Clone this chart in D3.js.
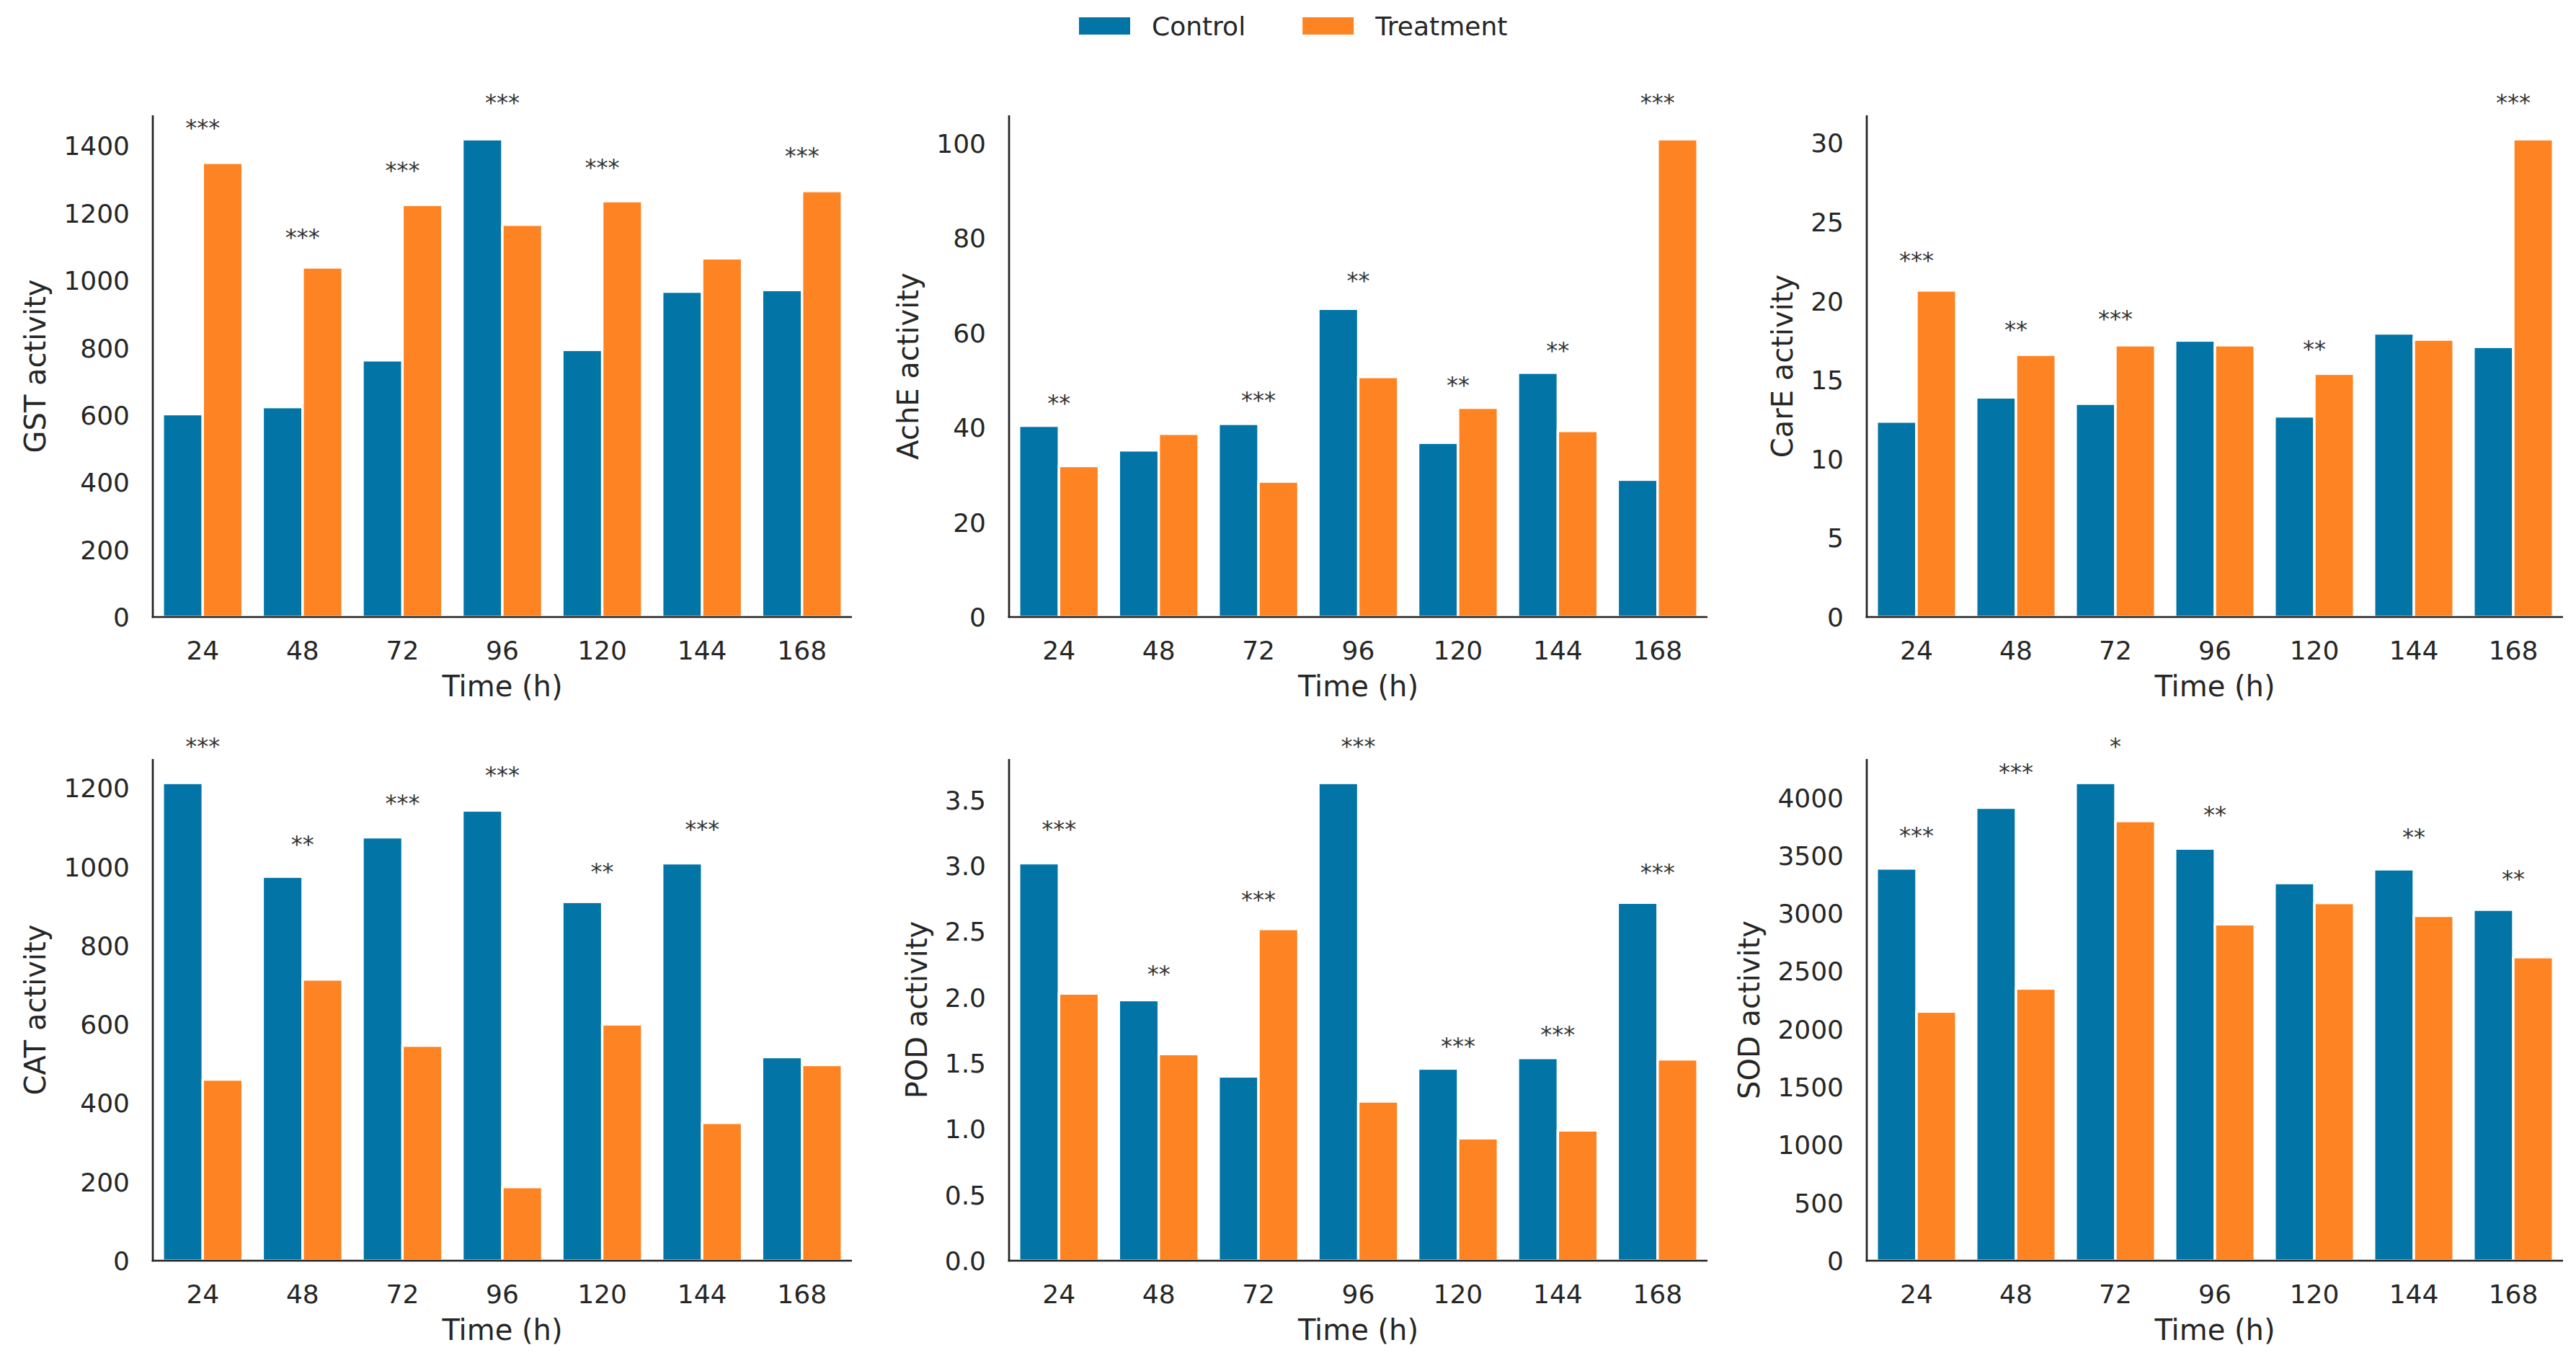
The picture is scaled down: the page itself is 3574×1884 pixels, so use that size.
<!DOCTYPE html>
<html>
<head>
<meta charset="utf-8">
<script src="https://cdn.jsdelivr.net/npm/d3@7"></script>
<style>
  body { margin: 0; background: #fff; }
  text { font-family: "DejaVu Sans", sans-serif; fill: #262626; }
</style>
</head>
<body>
<script>
const times = ["24", "48", "72", "96", "120", "144", "168"];
const seriesNames = ["Control", "Treatment"];
const colors = ["#0274a6", "#fe8322"];

const gstControl   = [603, 624, 763, 1420, 794, 967, 972];
const gstTreatment = [1350, 1039, 1225, 1166, 1236, 1066, 1266];
const gstSig  = ["***", "***", "***", "***", "***", "", "***"];
const gstSigY = [1469, 1144, 1344, 1545, 1352, null, 1385];
const gstTicks = [0, 200, 400, 600, 800, 1000, 1200, 1400];

const acheControl   = [40.4, 35.2, 40.8, 65.1, 36.8, 51.6, 29.0];
const acheTreatment = [31.9, 38.7, 28.6, 50.7, 44.2, 39.3, 100.9];
const acheSig  = ["**", "", "***", "**", "**", "**", "***"];
const acheSigY = [46.2, null, 46.8, 72.1, 50.0, 57.3, 109.8];
const acheTicks = [0, 20, 40, 60, 80, 100];

const careControl   = [12.37, 13.9, 13.5, 17.5, 12.7, 17.95, 17.1];
const careTreatment = [20.67, 16.6, 17.2, 17.2, 15.4, 17.56, 30.24];
const careSig  = ["***", "**", "***", "", "**", "", "***"];
const careSigY = [22.9, 18.5, 19.2, null, 17.3, null, 32.9];
const careTicks = [0, 5, 10, 15, 20, 25, 30];

const catControl   = [1213, 975, 1075, 1143, 911, 1009, 517];
const catTreatment = [460, 714, 546, 187, 600, 350, 497];
const catSig  = ["***", "**", "***", "***", "**", "***", ""];
const catSigY = [1320, 1070, 1175, 1246, 1001, 1109, null];
const catTicks = [0, 200, 400, 600, 800, 1000, 1200];

const podControl   = [3.02, 1.98, 1.40, 3.63, 1.46, 1.54, 2.72];
const podTreatment = [2.03, 1.57, 2.52, 1.21, 0.93, 0.99, 1.53];
const podSig  = ["***", "**", "***", "***", "***", "***", "***"];
const podSigY = [3.32, 2.22, 2.78, 3.95, 1.67, 1.76, 2.99];
const podTicks = [0, 0.5, 1.0, 1.5, 2.0, 2.5, 3.0, 3.5];

const sodControl   = [3388, 3913, 4127, 3560, 3262, 3381, 3032];
const sodTreatment = [2152, 2351, 3798, 2906, 3090, 2979, 2622];
const sodSig  = ["***", "***", "*", "**", "", "**", "**"];
const sodSigY = [3714, 4265, 4491, 3897, null, 3706, 3342];
const sodTicks = [0, 500, 1000, 1500, 2000, 2500, 3000, 3500, 4000];

const width = 3574, height = 1884;
const colLeft = [212, 1400, 2590], colRight = [1182, 2369, 3556];
const rowTop = [160, 1053], rowBottom = [856, 1749];

const svg = d3.select("body").append("svg")
    .attr("width", width)
    .attr("height", height);

svg.append("rect").attr("width", width).attr("height", height).attr("fill", "#fff");

function drawPanel(col, row, label, control, treatment, sig, sigY, ticks, fmt) {
    const left = colLeft[col], right = colRight[col];
    const top = rowTop[row], bottom = rowBottom[row];
    const g = svg.append("g");

    const x = d3.scaleBand().domain(times).range([left, right]).padding(0);
    const yMax = d3.max(control.concat(treatment)) * 1.05;
    const y = d3.scaleLinear().domain([0, yMax]).range([bottom, top]);
    const bw = x.bandwidth() * 0.4;

    [control, treatment].forEach(function(vals, s) {
        g.selectAll(".bar" + s)
            .data(vals)
            .enter()
            .append("rect")
            .attr("x", function(d, i) { return x(times[i]) + x.bandwidth() / 2 - bw + s * bw; })
            .attr("y", function(d) { return y(d); })
            .attr("width", bw)
            .attr("height", function(d) { return y(0) - y(d); })
            .attr("fill", colors[s])
            .attr("stroke", "#fff")
            .attr("stroke-width", 3.4);
    });

    // significance stars
    sig.forEach(function(s, i) {
        if (!s) return;
        g.append("text")
            .attr("x", x(times[i]) + x.bandwidth() / 2)
            .attr("y", y(sigY[i]) + 32 * 0.56)
            .attr("text-anchor", "middle")
            .style("font-size", "32px")
            .style("fill", "#333")
            .text(s);
    });

    // spines
    g.append("line")
        .attr("x1", left).attr("x2", left)
        .attr("y1", top).attr("y2", bottom + 1.35)
        .attr("stroke", "#222").attr("stroke-width", 2.7);
    g.append("line")
        .attr("x1", left - 1.35).attr("x2", right)
        .attr("y1", bottom).attr("y2", bottom)
        .attr("stroke", "#222").attr("stroke-width", 2.7);

    // x tick labels
    g.selectAll(".xt")
        .data(times)
        .enter()
        .append("text")
        .attr("x", function(d) { return x(d) + x.bandwidth() / 2; })
        .attr("y", bottom + 59)
        .attr("text-anchor", "middle")
        .style("font-size", "36px")
        .text(function(d) { return d; });

    // y tick labels
    const yt = g.append("g");
    yt.selectAll("text")
        .data(ticks)
        .enter()
        .append("text")
        .attr("x", left - 32)
        .attr("y", function(d) { return y(d) + 13; })
        .attr("text-anchor", "end")
        .style("font-size", "36px")
        .text(function(d) { return fmt ? d3.format(fmt)(d) : d; });

    const tickLeft = yt.node().getBBox().x;

    g.append("text")
        .attr("transform", "translate(" + (tickLeft - 25) + "," + ((top + bottom) / 2) + ") rotate(-90)")
        .attr("text-anchor", "middle")
        .style("font-size", "40px")
        .text(label);

    g.append("text")
        .attr("x", (left + right) / 2)
        .attr("y", bottom + 110)
        .attr("text-anchor", "middle")
        .style("font-size", "40px")
        .text("Time (h)");
}

drawPanel(0, 0, "GST activity", gstControl, gstTreatment, gstSig, gstSigY, gstTicks);
drawPanel(1, 0, "AchE activity", acheControl, acheTreatment, acheSig, acheSigY, acheTicks);
drawPanel(2, 0, "CarE activity", careControl, careTreatment, careSig, careSigY, careTicks);
drawPanel(0, 1, "CAT activity", catControl, catTreatment, catSig, catSigY, catTicks);
drawPanel(1, 1, "POD activity", podControl, podTreatment, podSig, podSigY, podTicks, ".1f");
drawPanel(2, 1, "SOD activity", sodControl, sodTreatment, sodSig, sodSigY, sodTicks);

// legend
const legend = svg.append("g").attr("transform", "translate(1497, 24)");
let lx = 0;
seriesNames.forEach(function(name, i) {
    legend.append("rect")
        .attr("x", lx).attr("y", 0)
        .attr("width", 71).attr("height", 24)
        .attr("fill", colors[i]);
    const t = legend.append("text")
        .attr("x", lx + 101)
        .attr("y", 25)
        .style("font-size", "36px")
        .text(name);
    lx += 101 + t.node().getComputedTextLength() + 79;
});
</script>
</body>
</html>
